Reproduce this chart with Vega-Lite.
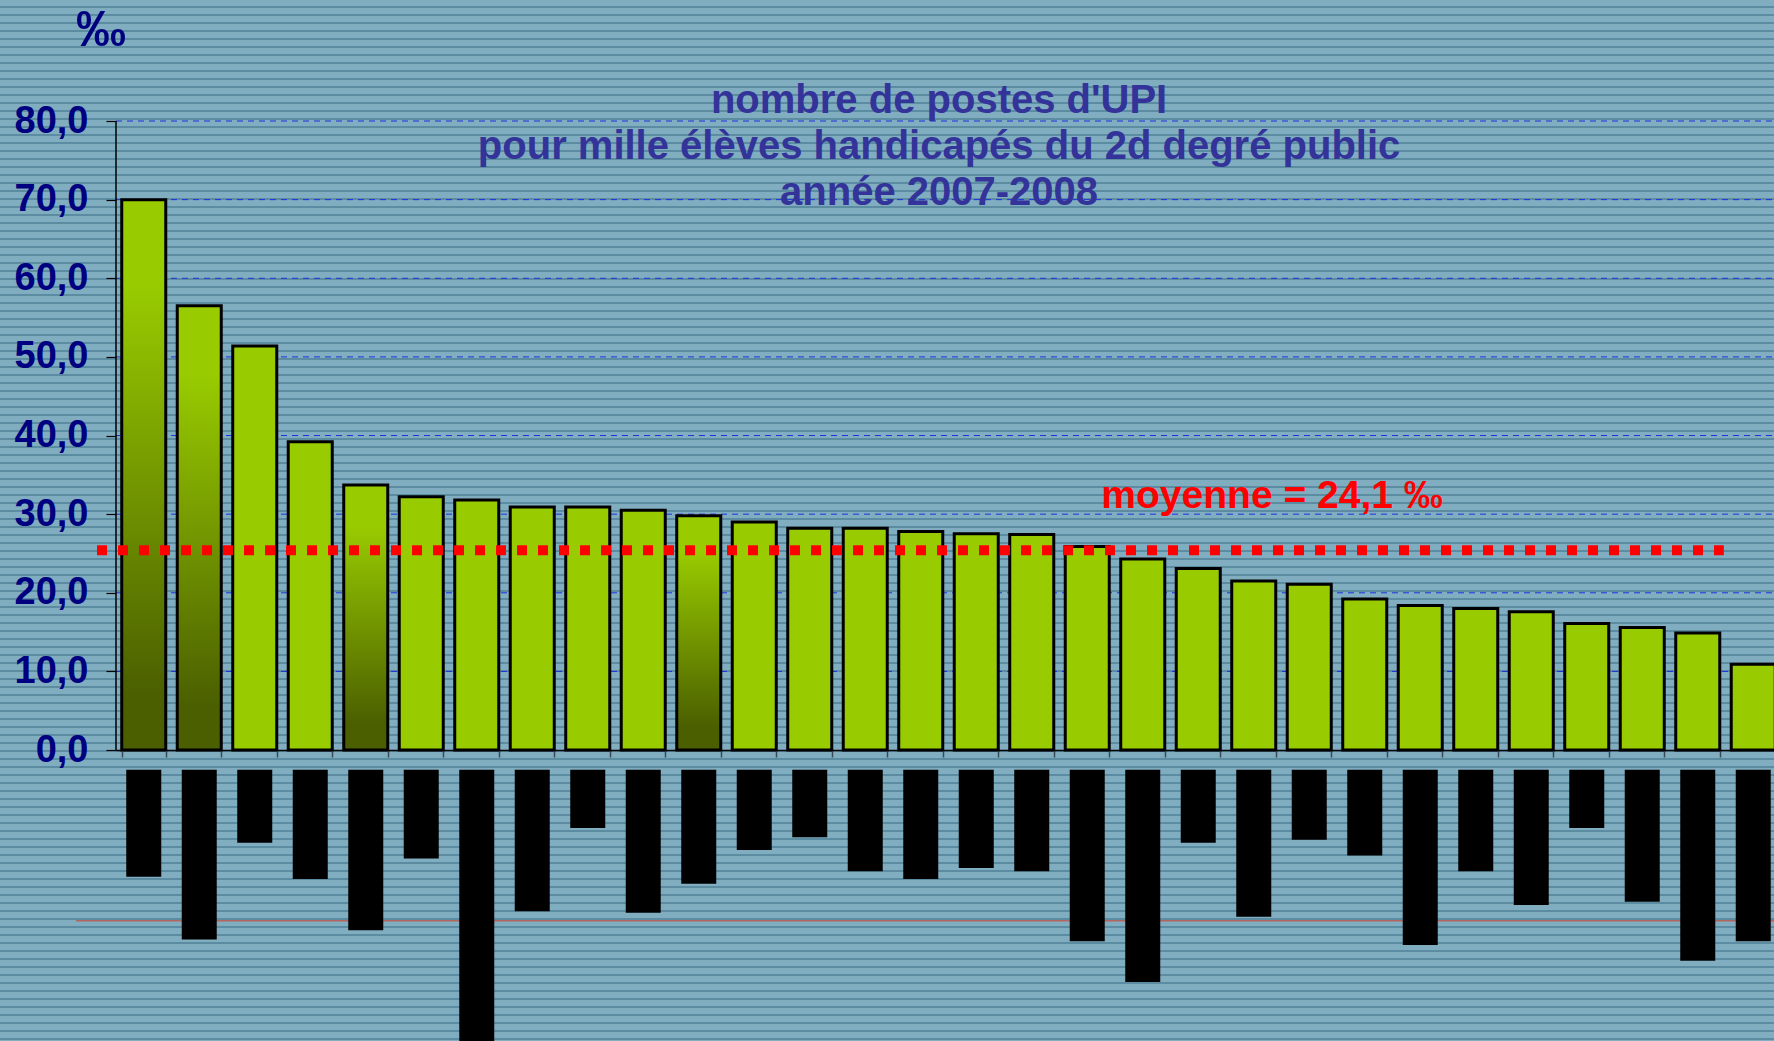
{
"$schema": "https://vega.github.io/schema/vega-lite/v6.json",
"width": 1774,
"height": 1041,
"autosize": {"type": "none"},
"padding": 0,
"background": "#77A5B8",
"config": {
  "font": "Liberation Sans",
  "view": {"stroke": null, "fill": "#77A5B8"}
},
"data": {"values": [
  {"rang": 1, "valeur": 70.0, "etiquette": -16.1, "degrade": true},
  {"rang": 2, "valeur": 56.5, "etiquette": -24.1, "degrade": true},
  {"rang": 3, "valeur": 51.4, "etiquette": -11.8, "degrade": false},
  {"rang": 4, "valeur": 39.2, "etiquette": -16.4, "degrade": false},
  {"rang": 5, "valeur": 33.7, "etiquette": -22.9, "degrade": true},
  {"rang": 6, "valeur": 32.2, "etiquette": -13.8, "degrade": false},
  {"rang": 7, "valeur": 31.8, "etiquette": -40.0, "degrade": false},
  {"rang": 8, "valeur": 30.9, "etiquette": -20.5, "degrade": false},
  {"rang": 9, "valeur": 30.9, "etiquette": -9.9, "degrade": false},
  {"rang": 10, "valeur": 30.5, "etiquette": -20.7, "degrade": false},
  {"rang": 11, "valeur": 29.8, "etiquette": -17.0, "degrade": true},
  {"rang": 12, "valeur": 29.0, "etiquette": -12.7, "degrade": false},
  {"rang": 13, "valeur": 28.2, "etiquette": -11.1, "degrade": false},
  {"rang": 14, "valeur": 28.2, "etiquette": -15.4, "degrade": false},
  {"rang": 15, "valeur": 27.8, "etiquette": -16.4, "degrade": false},
  {"rang": 16, "valeur": 27.5, "etiquette": -15.0, "degrade": false},
  {"rang": 17, "valeur": 27.4, "etiquette": -15.4, "degrade": false},
  {"rang": 18, "valeur": 25.9, "etiquette": -24.3, "degrade": false},
  {"rang": 19, "valeur": 24.3, "etiquette": -29.5, "degrade": false},
  {"rang": 20, "valeur": 23.1, "etiquette": -11.8, "degrade": false},
  {"rang": 21, "valeur": 21.5, "etiquette": -21.2, "degrade": false},
  {"rang": 22, "valeur": 21.1, "etiquette": -11.4, "degrade": false},
  {"rang": 23, "valeur": 19.2, "etiquette": -13.4, "degrade": false},
  {"rang": 24, "valeur": 18.4, "etiquette": -24.8, "degrade": false},
  {"rang": 25, "valeur": 18.0, "etiquette": -15.4, "degrade": false},
  {"rang": 26, "valeur": 17.6, "etiquette": -19.7, "degrade": false},
  {"rang": 27, "valeur": 16.1, "etiquette": -9.9, "degrade": false},
  {"rang": 28, "valeur": 15.6, "etiquette": -19.3, "degrade": false},
  {"rang": 29, "valeur": 14.9, "etiquette": -26.8, "degrade": false},
  {"rang": 30, "valeur": 10.9, "etiquette": -24.3, "degrade": false}
]},
"resolve": {"scale": {"x": "independent"}, "axis": {"x": "independent", "y": "independent"}},
"layer": [
  {
    "data": {"values": [{"gauche": -2.09, "droite": 30, "bas": -37, "haut": 95.39}]},
    "mark": {"type": "rect", "fill": {"gradient": "linear", "x1": 0, "y1": 0, "x2": 0, "y2": 1.53698, "stops": [
{"offset":0.00375,"color":"#80AEC0"},{"offset":0.00375,"color":"#5B8CA2"},{"offset":0.005,"color":"#5B8CA2"},{"offset":0.005,"color":"#80AEC0"},
{"offset":0.00875,"color":"#80AEC0"},{"offset":0.00875,"color":"#5B8CA2"},{"offset":0.01,"color":"#5B8CA2"},{"offset":0.01,"color":"#80AEC0"},
{"offset":0.01375,"color":"#80AEC0"},{"offset":0.01375,"color":"#5B8CA2"},{"offset":0.015,"color":"#5B8CA2"},{"offset":0.015,"color":"#80AEC0"},
{"offset":0.01875,"color":"#80AEC0"},{"offset":0.01875,"color":"#5B8CA2"},{"offset":0.02,"color":"#5B8CA2"},{"offset":0.02,"color":"#80AEC0"},
{"offset":0.02375,"color":"#80AEC0"},{"offset":0.02375,"color":"#5B8CA2"},{"offset":0.025,"color":"#5B8CA2"},{"offset":0.025,"color":"#80AEC0"},
{"offset":0.02875,"color":"#80AEC0"},{"offset":0.02875,"color":"#5B8CA2"},{"offset":0.03,"color":"#5B8CA2"},{"offset":0.03,"color":"#80AEC0"},
{"offset":0.03375,"color":"#80AEC0"},{"offset":0.03375,"color":"#5B8CA2"},{"offset":0.035,"color":"#5B8CA2"},{"offset":0.035,"color":"#80AEC0"},
{"offset":0.03875,"color":"#80AEC0"},{"offset":0.03875,"color":"#5B8CA2"},{"offset":0.04,"color":"#5B8CA2"},{"offset":0.04,"color":"#80AEC0"},
{"offset":0.04375,"color":"#80AEC0"},{"offset":0.04375,"color":"#5B8CA2"},{"offset":0.045,"color":"#5B8CA2"},{"offset":0.045,"color":"#80AEC0"},
{"offset":0.04875,"color":"#80AEC0"},{"offset":0.04875,"color":"#5B8CA2"},{"offset":0.05,"color":"#5B8CA2"},{"offset":0.05,"color":"#80AEC0"},
{"offset":0.05375,"color":"#80AEC0"},{"offset":0.05375,"color":"#5B8CA2"},{"offset":0.055,"color":"#5B8CA2"},{"offset":0.055,"color":"#80AEC0"},
{"offset":0.05875,"color":"#80AEC0"},{"offset":0.05875,"color":"#5B8CA2"},{"offset":0.06,"color":"#5B8CA2"},{"offset":0.06,"color":"#80AEC0"},
{"offset":0.06375,"color":"#80AEC0"},{"offset":0.06375,"color":"#5B8CA2"},{"offset":0.065,"color":"#5B8CA2"},{"offset":0.065,"color":"#80AEC0"},
{"offset":0.06875,"color":"#80AEC0"},{"offset":0.06875,"color":"#5B8CA2"},{"offset":0.07,"color":"#5B8CA2"},{"offset":0.07,"color":"#80AEC0"},
{"offset":0.07375,"color":"#80AEC0"},{"offset":0.07375,"color":"#5B8CA2"},{"offset":0.075,"color":"#5B8CA2"},{"offset":0.075,"color":"#80AEC0"},
{"offset":0.07875,"color":"#80AEC0"},{"offset":0.07875,"color":"#5B8CA2"},{"offset":0.08,"color":"#5B8CA2"},{"offset":0.08,"color":"#80AEC0"},
{"offset":0.08375,"color":"#80AEC0"},{"offset":0.08375,"color":"#5B8CA2"},{"offset":0.085,"color":"#5B8CA2"},{"offset":0.085,"color":"#80AEC0"},
{"offset":0.08875,"color":"#80AEC0"},{"offset":0.08875,"color":"#5B8CA2"},{"offset":0.09,"color":"#5B8CA2"},{"offset":0.09,"color":"#80AEC0"},
{"offset":0.09375,"color":"#80AEC0"},{"offset":0.09375,"color":"#5B8CA2"},{"offset":0.095,"color":"#5B8CA2"},{"offset":0.095,"color":"#80AEC0"},
{"offset":0.09875,"color":"#80AEC0"},{"offset":0.09875,"color":"#5B8CA2"},{"offset":0.1,"color":"#5B8CA2"},{"offset":0.1,"color":"#80AEC0"},
{"offset":0.10375,"color":"#80AEC0"},{"offset":0.10375,"color":"#5B8CA2"},{"offset":0.105,"color":"#5B8CA2"},{"offset":0.105,"color":"#80AEC0"},
{"offset":0.10875,"color":"#80AEC0"},{"offset":0.10875,"color":"#5B8CA2"},{"offset":0.11,"color":"#5B8CA2"},{"offset":0.11,"color":"#80AEC0"},
{"offset":0.11375,"color":"#80AEC0"},{"offset":0.11375,"color":"#5B8CA2"},{"offset":0.115,"color":"#5B8CA2"},{"offset":0.115,"color":"#80AEC0"},
{"offset":0.11875,"color":"#80AEC0"},{"offset":0.11875,"color":"#5B8CA2"},{"offset":0.12,"color":"#5B8CA2"},{"offset":0.12,"color":"#80AEC0"},
{"offset":0.12375,"color":"#80AEC0"},{"offset":0.12375,"color":"#5B8CA2"},{"offset":0.125,"color":"#5B8CA2"},{"offset":0.125,"color":"#80AEC0"},
{"offset":0.12875,"color":"#80AEC0"},{"offset":0.12875,"color":"#5B8CA2"},{"offset":0.13,"color":"#5B8CA2"},{"offset":0.13,"color":"#80AEC0"},
{"offset":0.13375,"color":"#80AEC0"},{"offset":0.13375,"color":"#5B8CA2"},{"offset":0.135,"color":"#5B8CA2"},{"offset":0.135,"color":"#80AEC0"},
{"offset":0.13875,"color":"#80AEC0"},{"offset":0.13875,"color":"#5B8CA2"},{"offset":0.14,"color":"#5B8CA2"},{"offset":0.14,"color":"#80AEC0"},
{"offset":0.14375,"color":"#80AEC0"},{"offset":0.14375,"color":"#5B8CA2"},{"offset":0.145,"color":"#5B8CA2"},{"offset":0.145,"color":"#80AEC0"},
{"offset":0.14875,"color":"#80AEC0"},{"offset":0.14875,"color":"#5B8CA2"},{"offset":0.15,"color":"#5B8CA2"},{"offset":0.15,"color":"#80AEC0"},
{"offset":0.15375,"color":"#80AEC0"},{"offset":0.15375,"color":"#5B8CA2"},{"offset":0.155,"color":"#5B8CA2"},{"offset":0.155,"color":"#80AEC0"},
{"offset":0.15875,"color":"#80AEC0"},{"offset":0.15875,"color":"#5B8CA2"},{"offset":0.16,"color":"#5B8CA2"},{"offset":0.16,"color":"#80AEC0"},
{"offset":0.16375,"color":"#80AEC0"},{"offset":0.16375,"color":"#5B8CA2"},{"offset":0.165,"color":"#5B8CA2"},{"offset":0.165,"color":"#80AEC0"},
{"offset":0.16875,"color":"#80AEC0"},{"offset":0.16875,"color":"#5B8CA2"},{"offset":0.17,"color":"#5B8CA2"},{"offset":0.17,"color":"#80AEC0"},
{"offset":0.17375,"color":"#80AEC0"},{"offset":0.17375,"color":"#5B8CA2"},{"offset":0.175,"color":"#5B8CA2"},{"offset":0.175,"color":"#80AEC0"},
{"offset":0.17875,"color":"#80AEC0"},{"offset":0.17875,"color":"#5B8CA2"},{"offset":0.18,"color":"#5B8CA2"},{"offset":0.18,"color":"#80AEC0"},
{"offset":0.18375,"color":"#80AEC0"},{"offset":0.18375,"color":"#5B8CA2"},{"offset":0.185,"color":"#5B8CA2"},{"offset":0.185,"color":"#80AEC0"},
{"offset":0.18875,"color":"#80AEC0"},{"offset":0.18875,"color":"#5B8CA2"},{"offset":0.19,"color":"#5B8CA2"},{"offset":0.19,"color":"#80AEC0"},
{"offset":0.19375,"color":"#80AEC0"},{"offset":0.19375,"color":"#5B8CA2"},{"offset":0.195,"color":"#5B8CA2"},{"offset":0.195,"color":"#80AEC0"},
{"offset":0.19875,"color":"#80AEC0"},{"offset":0.19875,"color":"#5B8CA2"},{"offset":0.2,"color":"#5B8CA2"},{"offset":0.2,"color":"#80AEC0"},
{"offset":0.20375,"color":"#80AEC0"},{"offset":0.20375,"color":"#5B8CA2"},{"offset":0.205,"color":"#5B8CA2"},{"offset":0.205,"color":"#80AEC0"},
{"offset":0.20875,"color":"#80AEC0"},{"offset":0.20875,"color":"#5B8CA2"},{"offset":0.21,"color":"#5B8CA2"},{"offset":0.21,"color":"#80AEC0"},
{"offset":0.21375,"color":"#80AEC0"},{"offset":0.21375,"color":"#5B8CA2"},{"offset":0.215,"color":"#5B8CA2"},{"offset":0.215,"color":"#80AEC0"},
{"offset":0.21875,"color":"#80AEC0"},{"offset":0.21875,"color":"#5B8CA2"},{"offset":0.22,"color":"#5B8CA2"},{"offset":0.22,"color":"#80AEC0"},
{"offset":0.22375,"color":"#80AEC0"},{"offset":0.22375,"color":"#5B8CA2"},{"offset":0.225,"color":"#5B8CA2"},{"offset":0.225,"color":"#80AEC0"},
{"offset":0.22875,"color":"#80AEC0"},{"offset":0.22875,"color":"#5B8CA2"},{"offset":0.23,"color":"#5B8CA2"},{"offset":0.23,"color":"#80AEC0"},
{"offset":0.23375,"color":"#80AEC0"},{"offset":0.23375,"color":"#5B8CA2"},{"offset":0.235,"color":"#5B8CA2"},{"offset":0.235,"color":"#80AEC0"},
{"offset":0.23875,"color":"#80AEC0"},{"offset":0.23875,"color":"#5B8CA2"},{"offset":0.24,"color":"#5B8CA2"},{"offset":0.24,"color":"#80AEC0"},
{"offset":0.24375,"color":"#80AEC0"},{"offset":0.24375,"color":"#5B8CA2"},{"offset":0.245,"color":"#5B8CA2"},{"offset":0.245,"color":"#80AEC0"},
{"offset":0.24875,"color":"#80AEC0"},{"offset":0.24875,"color":"#5B8CA2"},{"offset":0.25,"color":"#5B8CA2"},{"offset":0.25,"color":"#80AEC0"},
{"offset":0.25375,"color":"#80AEC0"},{"offset":0.25375,"color":"#5B8CA2"},{"offset":0.255,"color":"#5B8CA2"},{"offset":0.255,"color":"#80AEC0"},
{"offset":0.25875,"color":"#80AEC0"},{"offset":0.25875,"color":"#5B8CA2"},{"offset":0.26,"color":"#5B8CA2"},{"offset":0.26,"color":"#80AEC0"},
{"offset":0.26375,"color":"#80AEC0"},{"offset":0.26375,"color":"#5B8CA2"},{"offset":0.265,"color":"#5B8CA2"},{"offset":0.265,"color":"#80AEC0"},
{"offset":0.26875,"color":"#80AEC0"},{"offset":0.26875,"color":"#5B8CA2"},{"offset":0.27,"color":"#5B8CA2"},{"offset":0.27,"color":"#80AEC0"},
{"offset":0.27375,"color":"#80AEC0"},{"offset":0.27375,"color":"#5B8CA2"},{"offset":0.275,"color":"#5B8CA2"},{"offset":0.275,"color":"#80AEC0"},
{"offset":0.27875,"color":"#80AEC0"},{"offset":0.27875,"color":"#5B8CA2"},{"offset":0.28,"color":"#5B8CA2"},{"offset":0.28,"color":"#80AEC0"},
{"offset":0.28375,"color":"#80AEC0"},{"offset":0.28375,"color":"#5B8CA2"},{"offset":0.285,"color":"#5B8CA2"},{"offset":0.285,"color":"#80AEC0"},
{"offset":0.28875,"color":"#80AEC0"},{"offset":0.28875,"color":"#5B8CA2"},{"offset":0.29,"color":"#5B8CA2"},{"offset":0.29,"color":"#80AEC0"},
{"offset":0.29375,"color":"#80AEC0"},{"offset":0.29375,"color":"#5B8CA2"},{"offset":0.295,"color":"#5B8CA2"},{"offset":0.295,"color":"#80AEC0"},
{"offset":0.29875,"color":"#80AEC0"},{"offset":0.29875,"color":"#5B8CA2"},{"offset":0.3,"color":"#5B8CA2"},{"offset":0.3,"color":"#80AEC0"},
{"offset":0.30375,"color":"#80AEC0"},{"offset":0.30375,"color":"#5B8CA2"},{"offset":0.305,"color":"#5B8CA2"},{"offset":0.305,"color":"#80AEC0"},
{"offset":0.30875,"color":"#80AEC0"},{"offset":0.30875,"color":"#5B8CA2"},{"offset":0.31,"color":"#5B8CA2"},{"offset":0.31,"color":"#80AEC0"},
{"offset":0.31375,"color":"#80AEC0"},{"offset":0.31375,"color":"#5B8CA2"},{"offset":0.315,"color":"#5B8CA2"},{"offset":0.315,"color":"#80AEC0"},
{"offset":0.31875,"color":"#80AEC0"},{"offset":0.31875,"color":"#5B8CA2"},{"offset":0.32,"color":"#5B8CA2"},{"offset":0.32,"color":"#80AEC0"},
{"offset":0.32375,"color":"#80AEC0"},{"offset":0.32375,"color":"#5B8CA2"},{"offset":0.325,"color":"#5B8CA2"},{"offset":0.325,"color":"#80AEC0"},
{"offset":0.32875,"color":"#80AEC0"},{"offset":0.32875,"color":"#5B8CA2"},{"offset":0.33,"color":"#5B8CA2"},{"offset":0.33,"color":"#80AEC0"},
{"offset":0.33375,"color":"#80AEC0"},{"offset":0.33375,"color":"#5B8CA2"},{"offset":0.335,"color":"#5B8CA2"},{"offset":0.335,"color":"#80AEC0"},
{"offset":0.33875,"color":"#80AEC0"},{"offset":0.33875,"color":"#5B8CA2"},{"offset":0.34,"color":"#5B8CA2"},{"offset":0.34,"color":"#80AEC0"},
{"offset":0.34375,"color":"#80AEC0"},{"offset":0.34375,"color":"#5B8CA2"},{"offset":0.345,"color":"#5B8CA2"},{"offset":0.345,"color":"#80AEC0"},
{"offset":0.34875,"color":"#80AEC0"},{"offset":0.34875,"color":"#5B8CA2"},{"offset":0.35,"color":"#5B8CA2"},{"offset":0.35,"color":"#80AEC0"},
{"offset":0.35375,"color":"#80AEC0"},{"offset":0.35375,"color":"#5B8CA2"},{"offset":0.355,"color":"#5B8CA2"},{"offset":0.355,"color":"#80AEC0"},
{"offset":0.35875,"color":"#80AEC0"},{"offset":0.35875,"color":"#5B8CA2"},{"offset":0.36,"color":"#5B8CA2"},{"offset":0.36,"color":"#80AEC0"},
{"offset":0.36375,"color":"#80AEC0"},{"offset":0.36375,"color":"#5B8CA2"},{"offset":0.365,"color":"#5B8CA2"},{"offset":0.365,"color":"#80AEC0"},
{"offset":0.36875,"color":"#80AEC0"},{"offset":0.36875,"color":"#5B8CA2"},{"offset":0.37,"color":"#5B8CA2"},{"offset":0.37,"color":"#80AEC0"},
{"offset":0.37375,"color":"#80AEC0"},{"offset":0.37375,"color":"#5B8CA2"},{"offset":0.375,"color":"#5B8CA2"},{"offset":0.375,"color":"#80AEC0"},
{"offset":0.37875,"color":"#80AEC0"},{"offset":0.37875,"color":"#5B8CA2"},{"offset":0.38,"color":"#5B8CA2"},{"offset":0.38,"color":"#80AEC0"},
{"offset":0.38375,"color":"#80AEC0"},{"offset":0.38375,"color":"#5B8CA2"},{"offset":0.385,"color":"#5B8CA2"},{"offset":0.385,"color":"#80AEC0"},
{"offset":0.38875,"color":"#80AEC0"},{"offset":0.38875,"color":"#5B8CA2"},{"offset":0.39,"color":"#5B8CA2"},{"offset":0.39,"color":"#80AEC0"},
{"offset":0.39375,"color":"#80AEC0"},{"offset":0.39375,"color":"#5B8CA2"},{"offset":0.395,"color":"#5B8CA2"},{"offset":0.395,"color":"#80AEC0"},
{"offset":0.39875,"color":"#80AEC0"},{"offset":0.39875,"color":"#5B8CA2"},{"offset":0.4,"color":"#5B8CA2"},{"offset":0.4,"color":"#80AEC0"},
{"offset":0.40375,"color":"#80AEC0"},{"offset":0.40375,"color":"#5B8CA2"},{"offset":0.405,"color":"#5B8CA2"},{"offset":0.405,"color":"#80AEC0"},
{"offset":0.40875,"color":"#80AEC0"},{"offset":0.40875,"color":"#5B8CA2"},{"offset":0.41,"color":"#5B8CA2"},{"offset":0.41,"color":"#80AEC0"},
{"offset":0.41375,"color":"#80AEC0"},{"offset":0.41375,"color":"#5B8CA2"},{"offset":0.415,"color":"#5B8CA2"},{"offset":0.415,"color":"#80AEC0"},
{"offset":0.41875,"color":"#80AEC0"},{"offset":0.41875,"color":"#5B8CA2"},{"offset":0.42,"color":"#5B8CA2"},{"offset":0.42,"color":"#80AEC0"},
{"offset":0.42375,"color":"#80AEC0"},{"offset":0.42375,"color":"#5B8CA2"},{"offset":0.425,"color":"#5B8CA2"},{"offset":0.425,"color":"#80AEC0"},
{"offset":0.42875,"color":"#80AEC0"},{"offset":0.42875,"color":"#5B8CA2"},{"offset":0.43,"color":"#5B8CA2"},{"offset":0.43,"color":"#80AEC0"},
{"offset":0.43375,"color":"#80AEC0"},{"offset":0.43375,"color":"#5B8CA2"},{"offset":0.435,"color":"#5B8CA2"},{"offset":0.435,"color":"#80AEC0"},
{"offset":0.43875,"color":"#80AEC0"},{"offset":0.43875,"color":"#5B8CA2"},{"offset":0.44,"color":"#5B8CA2"},{"offset":0.44,"color":"#80AEC0"},
{"offset":0.44375,"color":"#80AEC0"},{"offset":0.44375,"color":"#5B8CA2"},{"offset":0.445,"color":"#5B8CA2"},{"offset":0.445,"color":"#80AEC0"},
{"offset":0.44875,"color":"#80AEC0"},{"offset":0.44875,"color":"#5B8CA2"},{"offset":0.45,"color":"#5B8CA2"},{"offset":0.45,"color":"#80AEC0"},
{"offset":0.45375,"color":"#80AEC0"},{"offset":0.45375,"color":"#5B8CA2"},{"offset":0.455,"color":"#5B8CA2"},{"offset":0.455,"color":"#80AEC0"},
{"offset":0.45875,"color":"#80AEC0"},{"offset":0.45875,"color":"#5B8CA2"},{"offset":0.46,"color":"#5B8CA2"},{"offset":0.46,"color":"#80AEC0"},
{"offset":0.46375,"color":"#80AEC0"},{"offset":0.46375,"color":"#5B8CA2"},{"offset":0.465,"color":"#5B8CA2"},{"offset":0.465,"color":"#80AEC0"},
{"offset":0.46875,"color":"#80AEC0"},{"offset":0.46875,"color":"#5B8CA2"},{"offset":0.47,"color":"#5B8CA2"},{"offset":0.47,"color":"#80AEC0"},
{"offset":0.47375,"color":"#80AEC0"},{"offset":0.47375,"color":"#5B8CA2"},{"offset":0.475,"color":"#5B8CA2"},{"offset":0.475,"color":"#80AEC0"},
{"offset":0.47875,"color":"#80AEC0"},{"offset":0.47875,"color":"#5B8CA2"},{"offset":0.48,"color":"#5B8CA2"},{"offset":0.48,"color":"#80AEC0"},
{"offset":0.48375,"color":"#80AEC0"},{"offset":0.48375,"color":"#5B8CA2"},{"offset":0.485,"color":"#5B8CA2"},{"offset":0.485,"color":"#80AEC0"},
{"offset":0.48875,"color":"#80AEC0"},{"offset":0.48875,"color":"#5B8CA2"},{"offset":0.49,"color":"#5B8CA2"},{"offset":0.49,"color":"#80AEC0"},
{"offset":0.49375,"color":"#80AEC0"},{"offset":0.49375,"color":"#5B8CA2"},{"offset":0.495,"color":"#5B8CA2"},{"offset":0.495,"color":"#80AEC0"},
{"offset":0.49875,"color":"#80AEC0"},{"offset":0.49875,"color":"#5B8CA2"},{"offset":0.5,"color":"#5B8CA2"},{"offset":0.5,"color":"#80AEC0"},
{"offset":0.50375,"color":"#80AEC0"},{"offset":0.50375,"color":"#5B8CA2"},{"offset":0.505,"color":"#5B8CA2"},{"offset":0.505,"color":"#80AEC0"},
{"offset":0.50875,"color":"#80AEC0"},{"offset":0.50875,"color":"#5B8CA2"},{"offset":0.51,"color":"#5B8CA2"},{"offset":0.51,"color":"#80AEC0"},
{"offset":0.51375,"color":"#80AEC0"},{"offset":0.51375,"color":"#5B8CA2"},{"offset":0.515,"color":"#5B8CA2"},{"offset":0.515,"color":"#80AEC0"},
{"offset":0.51875,"color":"#80AEC0"},{"offset":0.51875,"color":"#5B8CA2"},{"offset":0.52,"color":"#5B8CA2"},{"offset":0.52,"color":"#80AEC0"},
{"offset":0.52375,"color":"#80AEC0"},{"offset":0.52375,"color":"#5B8CA2"},{"offset":0.525,"color":"#5B8CA2"},{"offset":0.525,"color":"#80AEC0"},
{"offset":0.52875,"color":"#80AEC0"},{"offset":0.52875,"color":"#5B8CA2"},{"offset":0.53,"color":"#5B8CA2"},{"offset":0.53,"color":"#80AEC0"},
{"offset":0.53375,"color":"#80AEC0"},{"offset":0.53375,"color":"#5B8CA2"},{"offset":0.535,"color":"#5B8CA2"},{"offset":0.535,"color":"#80AEC0"},
{"offset":0.53875,"color":"#80AEC0"},{"offset":0.53875,"color":"#5B8CA2"},{"offset":0.54,"color":"#5B8CA2"},{"offset":0.54,"color":"#80AEC0"},
{"offset":0.54375,"color":"#80AEC0"},{"offset":0.54375,"color":"#5B8CA2"},{"offset":0.545,"color":"#5B8CA2"},{"offset":0.545,"color":"#80AEC0"},
{"offset":0.54875,"color":"#80AEC0"},{"offset":0.54875,"color":"#5B8CA2"},{"offset":0.55,"color":"#5B8CA2"},{"offset":0.55,"color":"#80AEC0"},
{"offset":0.55375,"color":"#80AEC0"},{"offset":0.55375,"color":"#5B8CA2"},{"offset":0.555,"color":"#5B8CA2"},{"offset":0.555,"color":"#80AEC0"},
{"offset":0.55875,"color":"#80AEC0"},{"offset":0.55875,"color":"#5B8CA2"},{"offset":0.56,"color":"#5B8CA2"},{"offset":0.56,"color":"#80AEC0"},
{"offset":0.56375,"color":"#80AEC0"},{"offset":0.56375,"color":"#5B8CA2"},{"offset":0.565,"color":"#5B8CA2"},{"offset":0.565,"color":"#80AEC0"},
{"offset":0.56875,"color":"#80AEC0"},{"offset":0.56875,"color":"#5B8CA2"},{"offset":0.57,"color":"#5B8CA2"},{"offset":0.57,"color":"#80AEC0"},
{"offset":0.57375,"color":"#80AEC0"},{"offset":0.57375,"color":"#5B8CA2"},{"offset":0.575,"color":"#5B8CA2"},{"offset":0.575,"color":"#80AEC0"},
{"offset":0.57875,"color":"#80AEC0"},{"offset":0.57875,"color":"#5B8CA2"},{"offset":0.58,"color":"#5B8CA2"},{"offset":0.58,"color":"#80AEC0"},
{"offset":0.58375,"color":"#80AEC0"},{"offset":0.58375,"color":"#5B8CA2"},{"offset":0.585,"color":"#5B8CA2"},{"offset":0.585,"color":"#80AEC0"},
{"offset":0.58875,"color":"#80AEC0"},{"offset":0.58875,"color":"#5B8CA2"},{"offset":0.59,"color":"#5B8CA2"},{"offset":0.59,"color":"#80AEC0"},
{"offset":0.59375,"color":"#80AEC0"},{"offset":0.59375,"color":"#5B8CA2"},{"offset":0.595,"color":"#5B8CA2"},{"offset":0.595,"color":"#80AEC0"},
{"offset":0.59875,"color":"#80AEC0"},{"offset":0.59875,"color":"#5B8CA2"},{"offset":0.6,"color":"#5B8CA2"},{"offset":0.6,"color":"#80AEC0"},
{"offset":0.60375,"color":"#80AEC0"},{"offset":0.60375,"color":"#5B8CA2"},{"offset":0.605,"color":"#5B8CA2"},{"offset":0.605,"color":"#80AEC0"},
{"offset":0.60875,"color":"#80AEC0"},{"offset":0.60875,"color":"#5B8CA2"},{"offset":0.61,"color":"#5B8CA2"},{"offset":0.61,"color":"#80AEC0"},
{"offset":0.61375,"color":"#80AEC0"},{"offset":0.61375,"color":"#5B8CA2"},{"offset":0.615,"color":"#5B8CA2"},{"offset":0.615,"color":"#80AEC0"},
{"offset":0.61875,"color":"#80AEC0"},{"offset":0.61875,"color":"#5B8CA2"},{"offset":0.62,"color":"#5B8CA2"},{"offset":0.62,"color":"#80AEC0"},
{"offset":0.62375,"color":"#80AEC0"},{"offset":0.62375,"color":"#5B8CA2"},{"offset":0.625,"color":"#5B8CA2"},{"offset":0.625,"color":"#80AEC0"},
{"offset":0.62875,"color":"#80AEC0"},{"offset":0.62875,"color":"#5B8CA2"},{"offset":0.63,"color":"#5B8CA2"},{"offset":0.63,"color":"#80AEC0"},
{"offset":0.63375,"color":"#80AEC0"},{"offset":0.63375,"color":"#5B8CA2"},{"offset":0.635,"color":"#5B8CA2"},{"offset":0.635,"color":"#80AEC0"},
{"offset":0.63875,"color":"#80AEC0"},{"offset":0.63875,"color":"#5B8CA2"},{"offset":0.64,"color":"#5B8CA2"},{"offset":0.64,"color":"#80AEC0"},
{"offset":0.64375,"color":"#80AEC0"},{"offset":0.64375,"color":"#5B8CA2"},{"offset":0.645,"color":"#5B8CA2"},{"offset":0.645,"color":"#80AEC0"},
{"offset":0.64875,"color":"#80AEC0"},{"offset":0.64875,"color":"#5B8CA2"},{"offset":0.65,"color":"#5B8CA2"},{"offset":0.65,"color":"#80AEC0"},
{"offset":0.65375,"color":"#80AEC0"},{"offset":0.65375,"color":"#5B8CA2"},{"offset":0.655,"color":"#5B8CA2"},{"offset":0.655,"color":"#80AEC0"}
    ]}},
    "encoding": {
      "x": {"field": "gauche", "type": "quantitative", "scale": {"domain": [0, 30], "range": [116, 1781], "nice": false, "zero": false}, "axis": null},
      "x2": {"field": "droite"},
      "y": {"field": "bas", "type": "quantitative", "scale": {"domain": [-37, 95.39], "nice": false, "zero": false}, "axis": null},
      "y2": {"field": "haut"}
    }
  },
  {
    "data": {"values": [{"grille": 10}, {"grille": 20}, {"grille": 30}, {"grille": 40}, {"grille": 50}, {"grille": 60}, {"grille": 70}, {"grille": 80}]},
    "mark": {"type": "rule", "color": "#1F2FE0", "strokeWidth": 1, "strokeDash": [6, 5]},
    "encoding": {
      "x": {"datum": 0, "type": "quantitative", "scale": {"domain": [0, 30], "range": [116, 1781], "nice": false, "zero": false}, "axis": null},
      "x2": {"datum": 30},
      "y": {"field": "grille", "type": "quantitative", "scale": {"domain": [-37, 95.39], "nice": false, "zero": false}, "axis": null}
    }
  },
  {
    "data": {"values": [{"niveau": -21.7, "debut": -0.72, "fin": 30}]},
    "mark": {"type": "rule", "color": "#B5655F", "strokeWidth": 1.5},
    "encoding": {
      "x": {"field": "debut", "type": "quantitative", "scale": {"domain": [0, 30], "range": [116, 1781], "nice": false, "zero": false}, "axis": null},
      "x2": {"field": "fin"},
      "y": {"field": "niveau", "type": "quantitative", "scale": {"domain": [-37, 95.39], "nice": false, "zero": false}, "axis": null}
    }
  },
  {
    "mark": {"type": "bar", "color": "#000000", "width": 35},
    "encoding": {
      "x": {"field": "rang", "type": "ordinal", "scale": {"type": "band", "range": [116, 1781], "paddingInner": 0.207, "paddingOuter": 0.1035},
            "axis": {"title": null, "labels": false, "ticks": true, "tickSize": 7, "tickColor": "#3A4A55", "tickWidth": 1.5, "tickBand": "extent", "domain": true, "domainColor": "#000000", "domainWidth": 1.5, "offset": -291, "grid": false, "zindex": 1}},
      "y": {"field": "etiquette", "type": "quantitative", "scale": {"domain": [-37, 95.39], "nice": false, "zero": false},
            "axis": {"title": null, "orient": "left", "values": [0, 10, 20, 30, 40, 50, 60, 70, 80], "offset": -116, "domain": false, "ticks": true, "tickSize": 10, "tickColor": "#000000", "tickWidth": 1.2, "labelPadding": 18, "labelFontSize": 38, "labelFont": "Liberation Sans", "labelFontWeight": "bold", "labelColor": "#000080", "format": ".1f", "labelExpr": "replace(datum.label, '.', ',')", "grid": false, "zindex": 1}},
      "y2": {"datum": -2.5}
    }
  },
  {
    "mark": {"type": "bar", "stroke": "#000000", "strokeWidth": 3},
    "encoding": {
      "x": {"field": "rang", "type": "ordinal", "scale": {"type": "band", "range": [116, 1781], "paddingInner": 0.207, "paddingOuter": 0.1035}, "axis": null},
      "y": {"field": "valeur", "type": "quantitative", "scale": {"domain": [-37, 95.39], "nice": false, "zero": false}, "axis": null},
      "fill": {"condition": {"test": "datum.degrade", "value": {"gradient": "linear", "x1": 0, "y1": 0, "x2": 0, "y2": 1, "stops": [
               {"offset": 0, "color": "#99CC00"}, {"offset": 0.15, "color": "#99CC00"}, {"offset": 0.9, "color": "#4B5F00"}, {"offset": 1, "color": "#4B5F00"}]}},
               "value": "#99CC00"}
    }
  },
  {
    "data": {"values": [{"axe_bas": 0, "axe_haut": 80, "axe_x": 0}]},
    "mark": {"type": "rule", "color": "#000000", "strokeWidth": 1.5},
    "encoding": {
      "x": {"field": "axe_x", "type": "quantitative", "scale": {"domain": [0, 30], "range": [116, 1781], "nice": false, "zero": false}, "axis": null},
      "y": {"field": "axe_bas", "type": "quantitative", "scale": {"domain": [-37, 95.39], "nice": false, "zero": false}, "axis": null},
      "y2": {"field": "axe_haut"}
    }
  },
  {
    "data": {"values": [{"moyenne": 25.4, "debut": -0.342, "fin": 28.97}]},
    "mark": {"type": "rule", "color": "#FF0000", "strokeWidth": 10, "strokeDash": [10, 11], "strokeCap": "butt"},
    "encoding": {
      "x": {"field": "debut", "type": "quantitative", "scale": {"domain": [0, 30], "range": [116, 1781], "nice": false, "zero": false}, "axis": null},
      "x2": {"field": "fin"},
      "y": {"field": "moyenne", "type": "quantitative", "scale": {"domain": [-37, 95.39], "nice": false, "zero": false}, "axis": null}
    }
  },
  {
    "data": {"values": [{"px": 20.83, "py": 32.3}]},
    "mark": {"type": "text", "text": "moyenne = 24,1 ‰", "color": "#FF0000", "font": "Liberation Sans", "fontSize": 39, "fontWeight": "bold", "align": "center", "baseline": "middle"},
    "encoding": {
      "x": {"field": "px", "type": "quantitative", "scale": {"domain": [0, 30], "range": [116, 1781], "nice": false, "zero": false}, "axis": null},
      "y": {"field": "py", "type": "quantitative", "scale": {"domain": [-37, 95.39], "nice": false, "zero": false}, "axis": null}
    }
  },
  {
    "data": {"values": [{"px": 14.83, "py": 82.5}]},
    "mark": {"type": "text", "text": ["nombre de postes d'UPI", "pour mille élèves handicapés du 2d degré public", "année 2007-2008"], "color": "#333399", "font": "Liberation Sans", "fontSize": 40, "fontWeight": "bold", "lineHeight": 46, "align": "center", "baseline": "middle"},
    "encoding": {
      "x": {"field": "px", "type": "quantitative", "scale": {"domain": [0, 30], "range": [116, 1781], "nice": false, "zero": false}, "axis": null},
      "y": {"field": "py", "type": "quantitative", "scale": {"domain": [-37, 95.39], "nice": false, "zero": false}, "axis": null}
    }
  },
  {
    "data": {"values": [{"px": -0.27, "py": 91.4}]},
    "mark": {"type": "text", "text": "‰", "color": "#000080", "font": "Liberation Sans", "fontSize": 50, "fontWeight": "bold", "align": "center", "baseline": "middle"},
    "encoding": {
      "x": {"field": "px", "type": "quantitative", "scale": {"domain": [0, 30], "range": [116, 1781], "nice": false, "zero": false}, "axis": null},
      "y": {"field": "py", "type": "quantitative", "scale": {"domain": [-37, 95.39], "nice": false, "zero": false}, "axis": null}
    }
  }
]
}
